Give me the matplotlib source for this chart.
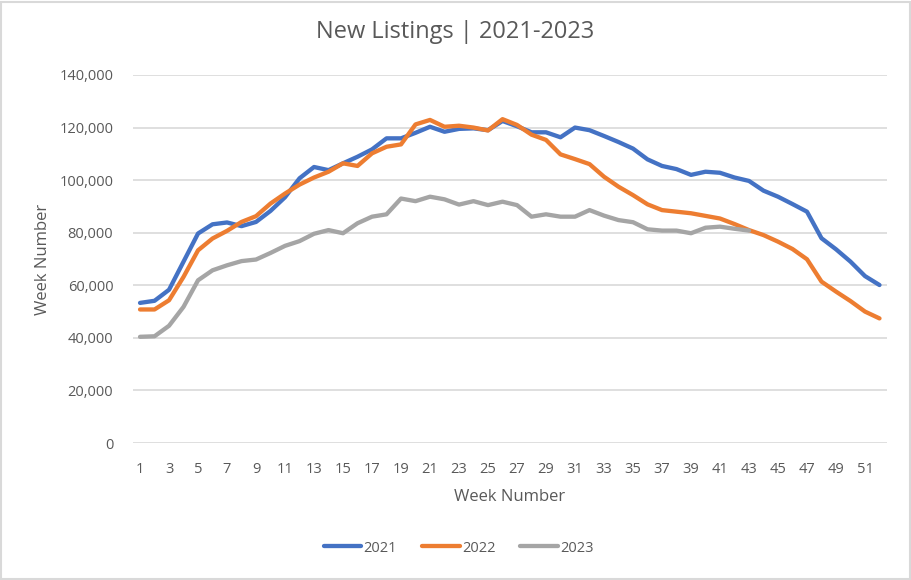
import matplotlib.pyplot as plt
from matplotlib.patches import Rectangle
from matplotlib.ticker import FuncFormatter
import numpy as np

plt.rcParams['font.family'] = ['Open Sans', 'DejaVu Sans']

weeks = np.arange(1, 53)

# weekly new listings
y2021 = [53300, 54100, 58300, 69000, 79700, 83200, 83900, 82500, 84100, 88300,
         93500, 100700, 105000, 103800, 106400, 108900, 111700, 115900, 115900, 118000,
         120300, 118400, 119500, 119700, 119000, 122500, 120500, 118200, 118200, 116300,
         120000, 119000, 116800, 114500, 112000, 107900, 105400, 104200, 102000, 103200,
         102800, 101000, 99700, 96000, 93700, 90900, 88000, 77900, 73700, 69000,
         63500, 60100]
y2022 = [50800, 50800, 54300, 63200, 73300, 77800, 80700, 84100, 86300, 91100,
         94900, 98300, 101000, 103200, 106400, 105400, 110200, 112700, 113600, 121200,
         122900, 120300, 120700, 120000, 118900, 123200, 121000, 117300, 115300, 109800,
         108000, 106100, 101300, 97500, 94300, 90800, 88600, 88000, 87400, 86400,
         85400, 83300, 81000, 79100, 76600, 73800, 69900, 61400, 57600, 54000,
         50000, 47400]
y2023 = [40400, 40600, 44600, 51800, 61900, 65700, 67600, 69200, 69800, 72300,
         75000, 76800, 79600, 81000, 79800, 83600, 86100, 87000, 93000, 92000,
         93700, 92700, 90700, 92000, 90500, 91800, 90500, 86100, 87000, 86100,
         86100, 88600, 86500, 84800, 84000, 81300, 80800, 80800, 79800, 81900,
         82300, 81500, 80800]

series = [('2021', y2021, '#4472C4'),
          ('2022', y2022, '#ED7D31'),
          ('2023', y2023, '#A5A5A5')]

fig = plt.figure(figsize=(9.12, 5.8), dpi=100)
ax = fig.add_axes([0.1456, 0.2362, 0.8267, 0.6345])

for name, vals, col in series:
    ax.plot(weeks[:len(vals)], vals, color=col, lw=3.1, label=name,
            solid_capstyle='round', solid_joinstyle='round')

ax.set_xlim(0.5, 52.5)
ax.set_ylim(0, 140000)
ax.set_yticks(np.arange(0, 140001, 20000))
ax.yaxis.set_major_formatter(FuncFormatter(lambda v, p: f'{int(v):,}'))
ax.set_xticks(weeks[::2])
ax.grid(axis='y', color='#D9D9D9', lw=1.2)
ax.set_axisbelow(True)
for s in ax.spines.values():
    s.set_visible(False)
ax.tick_params(length=0, labelsize=10.5, colors='#595959')
ax.tick_params(axis='y', pad=14)
ax.tick_params(axis='x', pad=14)

fig.suptitle('New Listings | 2021-2023', x=0.499, y=0.965, fontsize=17, color='#595959')
ax.set_xlabel('Week Number', fontsize=12, color='#595959', labelpad=8)
ax.set_ylabel('Week Number', fontsize=12, color='#595959', labelpad=6)

fig.legend(loc='center', bbox_to_anchor=(0.503, 0.055), ncol=3, frameon=False,
           fontsize=10.5, labelcolor='#595959', handlelength=2.6,
           handletextpad=0.15, columnspacing=1.7)

fig.patches.append(Rectangle((0.001, 0.002), 0.997, 0.995, transform=fig.transFigure,
                             fill=False, edgecolor='#D9D9D9', lw=1.5))

fig.savefig('out.png', dpi=100)
